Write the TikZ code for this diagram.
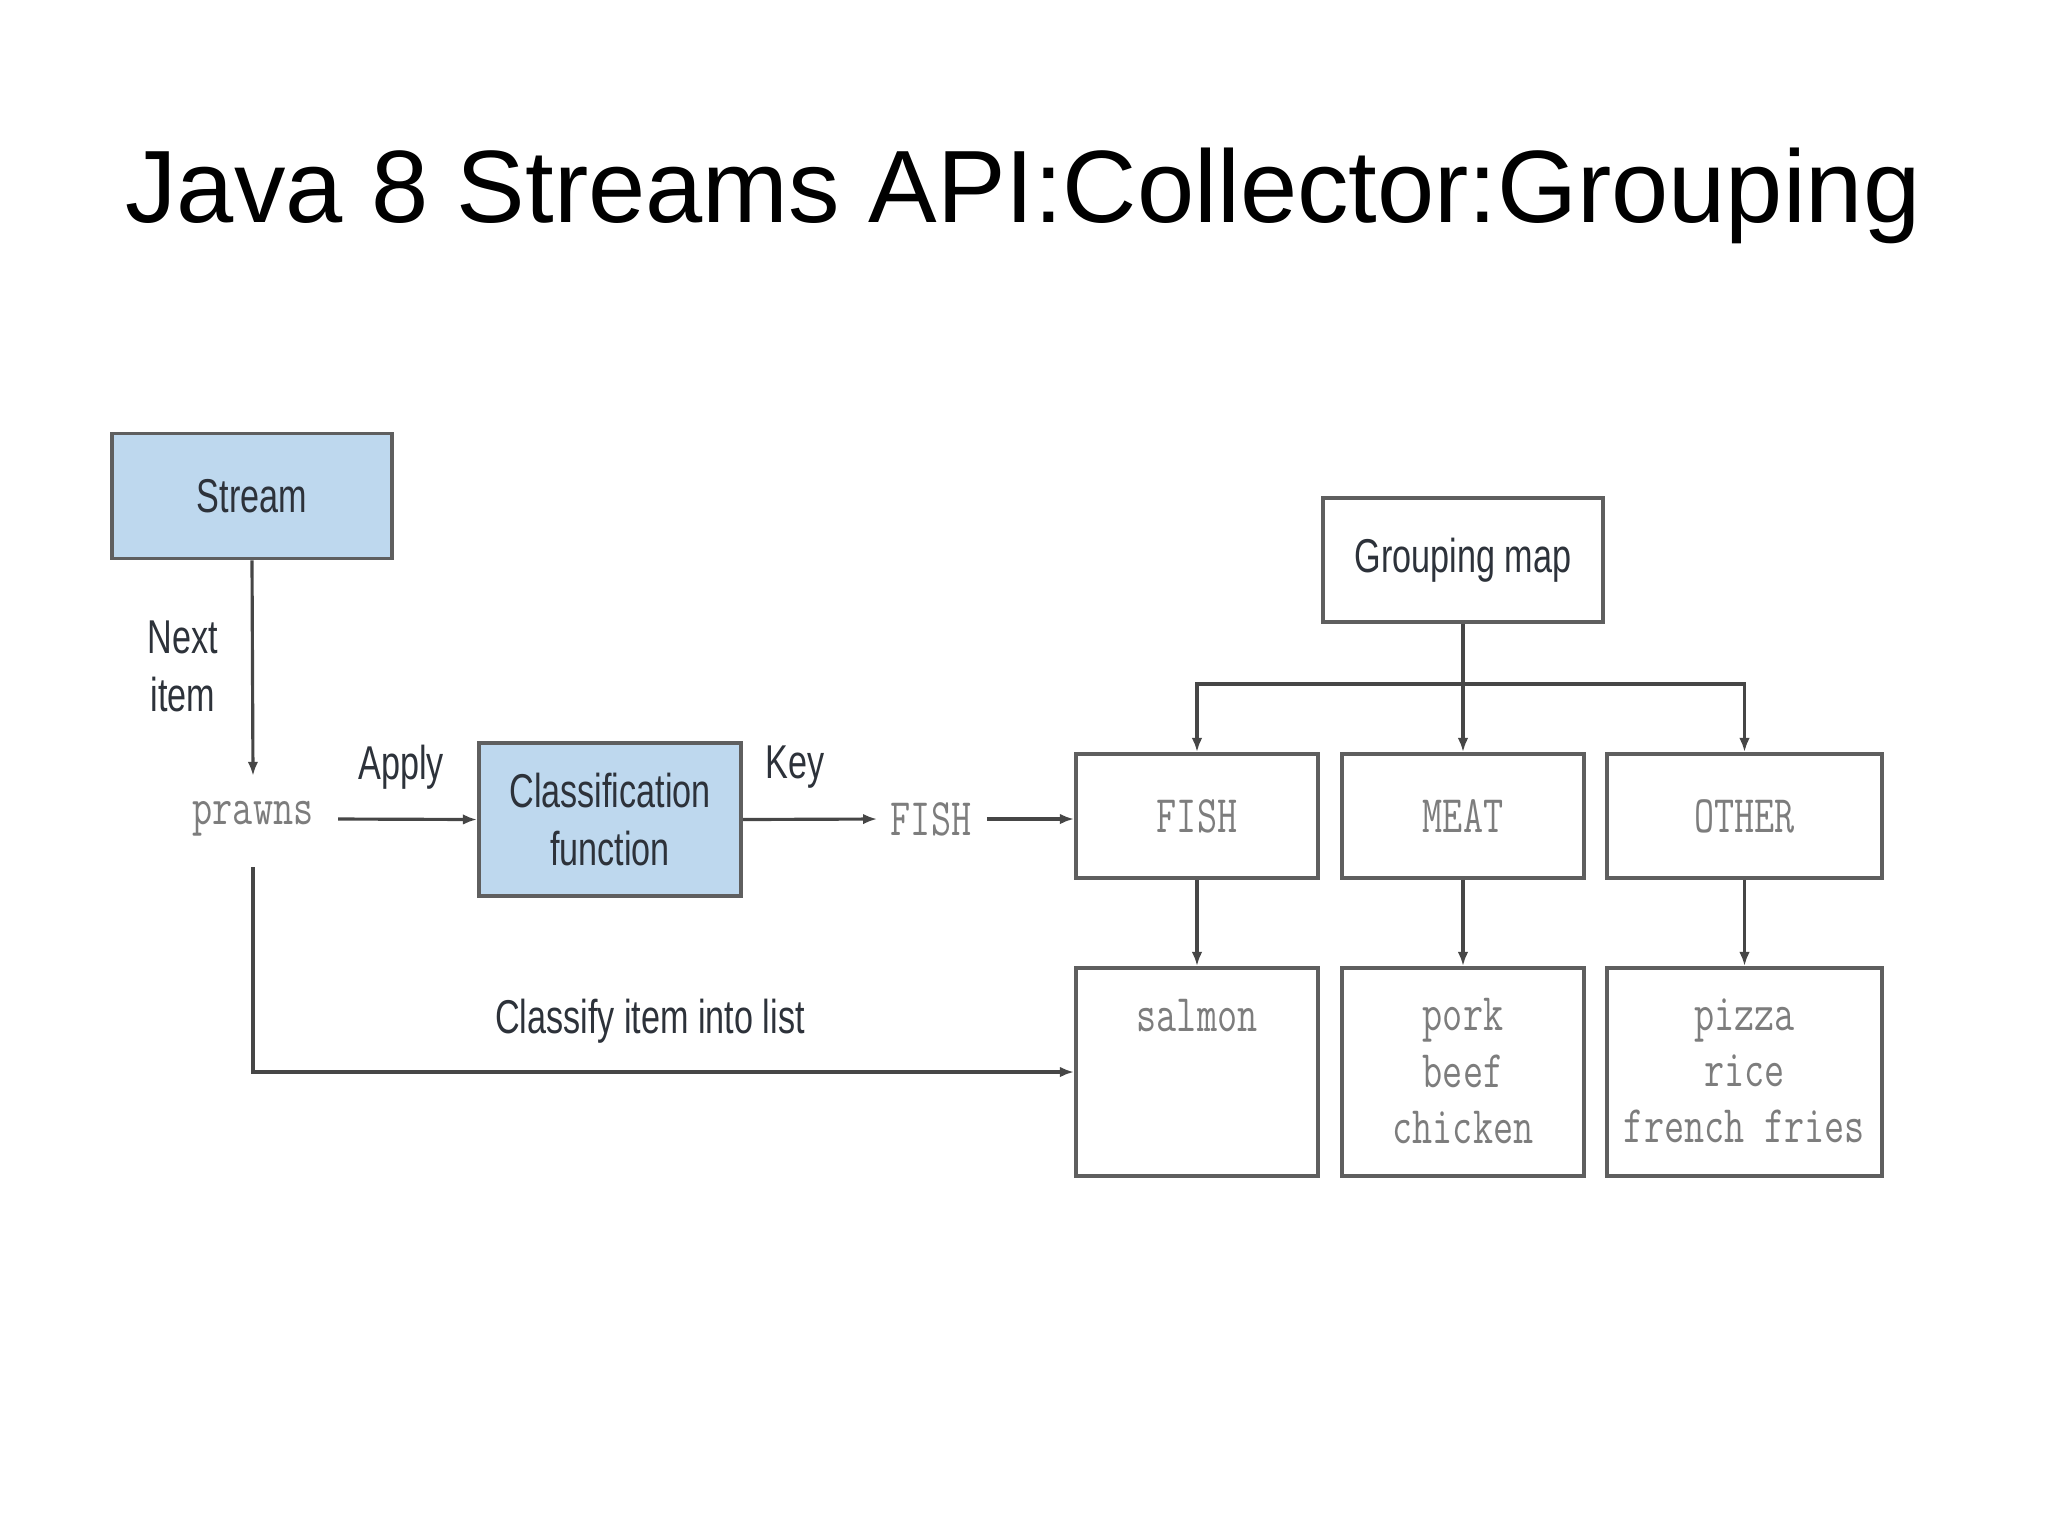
\documentclass[tikz,border=0pt]{standalone}
\usepackage{fontspec}
\setmainfont{Liberation Sans}
\newfontfamily\labfont[FakeStretch=0.72]{Liberation Sans}
\newfontfamily\codefont[FakeStretch=0.74]{Latin Modern Mono}
\usetikzlibrary{arrows.meta}
\definecolor{boxblue}{RGB}{190,216,238}
\definecolor{edgegray}{RGB}{95,95,95}
\definecolor{linegray}{RGB}{70,70,70}
\definecolor{labgray}{RGB}{45,50,58}
\definecolor{codegray}{RGB}{125,125,125}
\tikzset{
  box/.style={draw=edgegray, line width=1.1pt, inner sep=0pt, font=\labfont\fontsize{13.5}{16.5}\selectfont, text=labgray, align=center},
  bluebox/.style={box, fill=boxblue},
  lab/.style={font=\labfont\fontsize{13.5}{16.5}\selectfont, text=labgray, align=center, inner sep=0pt},
  code/.style={font=\codefont\fontsize{15}{16}\selectfont, text=codegray, inner sep=0pt},
  conn/.style={draw=linegray, line width=0.9pt, -{Latex[length=4pt,width=3pt]}},
  plain/.style={draw=linegray, line width=0.9pt}
}
\begin{document}
\begin{tikzpicture}[x=0.01cm, y=-0.01cm]
\useasboundingbox (0,0) rectangle (2048,1535);
\node[font=\fontsize{29.25}{34}\selectfont, text=black, inner sep=0pt] (title) at (1023,196) {Java 8 Streams API:Collector:Grouping};
% left part
\node[bluebox, minimum width=2.80cm, minimum height=1.25cm] (stream) at (252,496) {Stream};
\node[lab] (next) at (183,666) {Next\\item};
\node[code] (prawns) at (253,819) {prawns};
\node[bluebox, minimum width=2.62cm, minimum height=1.53cm] (classif) at (610,819.5) {Classification\\function};
\node[lab] (apply) at (401,767) {Apply};
\node[lab] (key) at (795,767) {Key};
\node[code] (fishkey) at (931,819) {FISH};
% grouping map
\node[box, minimum width=2.80cm, minimum height=1.24cm] (gmap) at (1463,560) {Grouping map};
\node[box, code, minimum width=2.42cm, minimum height=1.24cm] (fishbox) at (1197,816) {FISH};
\node[box, code, minimum width=2.42cm, minimum height=1.24cm] (meatbox) at (1463,816) {MEAT};
\node[box, code, minimum width=2.75cm, minimum height=1.24cm] (otherbox) at (1744.5,816) {OTHER};
\node[box, minimum width=2.42cm, minimum height=2.08cm] (salmonbox) at (1197,1072) {};
\node[box, minimum width=2.42cm, minimum height=2.08cm] (meatlist) at (1463,1072) {};
\node[box, minimum width=2.75cm, minimum height=2.08cm] (otherlist) at (1744.5,1072) {};
\node[code, anchor=center] (salmon) at (1197,1016) {salmon};
\node[code, align=center, anchor=north] (meatitems) at (1463,998) {pork\\beef\\chicken};
\node[code, align=center, anchor=north] (otheritems) at (1744.5,998) {pizza\\rice\\french fries};
\node[lab] (classify) at (650,1021) {Classify item into list};
% connectors
\draw[conn] (stream.south) -- ([yshift=0.25cm]prawns.north);
\draw[conn] ([xshift=0.24cm]prawns.east) -- (classif.west);
\draw[conn] (classif.east) -- ([xshift=-0.13cm]fishkey.west);
\draw[conn] ([xshift=0.15cm]fishkey.east) -- (fishkey.east -| fishbox.west);
\coordinate (branch) at (1463,684);
\draw[plain] (gmap.south) -- (branch);
\draw[conn] (branch) -- (meatbox.north);
\draw[conn] (branch) -| (fishbox.north);
\draw[conn] (branch) -| (otherbox.north);
\draw[conn] (fishbox.south) -- (salmonbox.north);
\draw[conn] (meatbox.south) -- (meatlist.north);
\draw[conn] (otherbox.south) -- (otherlist.north);
\draw[conn] ([yshift=-0.3cm]prawns.south) |- (salmonbox.west);
\end{tikzpicture}
\end{document}
